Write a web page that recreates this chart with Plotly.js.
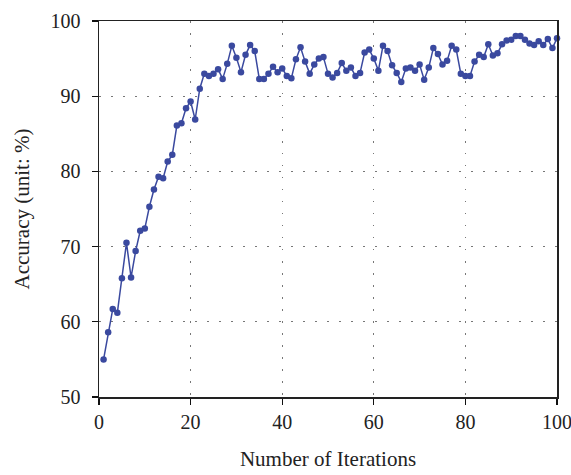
<!DOCTYPE html>
<html>
<head>
<meta charset="utf-8">
<script src="https://cdn.plot.ly/plotly-3.0.1.min.js"></script>
<style>html,body{margin:0;padding:0;background:#fff;}#chart{width:571px;height:475px;}</style>
</head>
<body>
<div id="chart"></div>
<script>
const iterations = [];
for (let i = 1; i <= 100; i++) iterations.push(i);

const accuracy = [
  55.0, 58.6, 61.7, 61.2, 65.8, 70.5, 65.9, 69.4, 72.1, 72.4,
  75.3, 77.6, 79.3, 79.1, 81.3, 82.2, 86.1, 86.4, 88.4, 89.3,
  86.9, 91.0, 93.0, 92.7, 93.0, 93.6, 92.3, 94.3, 96.7, 95.1,
  93.2, 95.5, 96.8, 96.0, 92.3, 92.3, 93.0, 93.9, 93.2, 93.7,
  92.7, 92.4, 94.9, 96.5, 94.6, 93.0, 94.2, 95.0, 95.2, 93.0,
  92.5, 93.1, 94.4, 93.4, 93.8, 92.7, 93.1, 95.8, 96.2, 95.0,
  93.4, 96.7, 96.0, 94.1, 93.1, 91.9, 93.7, 93.8, 93.4, 94.2,
  92.2, 93.8, 96.4, 95.6, 94.2, 94.7, 96.7, 96.2, 93.0, 92.7,
  92.7, 94.6, 95.5, 95.2, 96.9, 95.4, 95.7, 96.9, 97.4, 97.5,
  98.0, 98.0, 97.5, 97.0, 96.8, 97.3, 96.8, 97.6, 96.4, 97.7
];

const xTicks = [0, 20, 40, 60, 80, 100];
const yTicks = [50, 60, 70, 80, 90, 100];

const fontFamily = '"Liberation Serif", "DejaVu Serif", serif';
const lineBlue = '#3A499F';

const trace = {
  x: iterations,
  y: accuracy,
  type: 'scatter',
  mode: 'lines+markers',
  cliponaxis: false,
  line: {color: lineBlue, width: 1.5},
  marker: {color: lineBlue, size: 6.5, symbol: 'circle'},
  hoverinfo: 'x+y'
};

const layout = {
  width: 571,
  height: 475,
  margin: {l: 99, r: 14, t: 21, b: 78},
  paper_bgcolor: '#fff',
  plot_bgcolor: '#fff',
  showlegend: false,
  font: {family: fontFamily, size: 20, color: '#222'},
  xaxis: {
    range: [0, 100],
    tickvals: xTicks,
    ticktext: xTicks.map(String),
    ticks: 'outside',
    ticklen: 6,
    tickwidth: 1.3,
    tickcolor: '#111',
    showline: true,
    linecolor: '#222',
    linewidth: 1.5,
    mirror: true,
    showgrid: true,
    gridcolor: '#777',
    gridwidth: 1,
    griddash: '1.5px,10.5px',
    zeroline: false,
    ticklabeloverflow: 'allow',
    ticklabelstandoff: 0,
    tickfont: {family: fontFamily, size: 20, color: '#222'},
    title: {text: 'Number of Iterations', font: {family: fontFamily, size: 21, color: '#222'}, standoff: 20}
  },
  yaxis: {
    range: [50, 100],
    tickvals: yTicks,
    ticktext: yTicks.map(String),
    ticks: 'outside',
    ticklen: 6,
    tickwidth: 1.3,
    tickcolor: '#111',
    showline: true,
    linecolor: '#222',
    linewidth: 1.5,
    mirror: true,
    showgrid: true,
    gridcolor: '#777',
    gridwidth: 1,
    griddash: '1.5px,10.5px',
    zeroline: false,
    ticklabeloverflow: 'allow',
    ticklabelstandoff: 7,
    tickfont: {family: fontFamily, size: 20, color: '#222'},
    title: {text: 'Accuracy (unit: %)', font: {family: fontFamily, size: 21, color: '#222'}, standoff: 15}
  }
};

Plotly.newPlot('chart', [trace], layout, {displayModeBar: false, staticPlot: true});
</script>
</body>
</html>
